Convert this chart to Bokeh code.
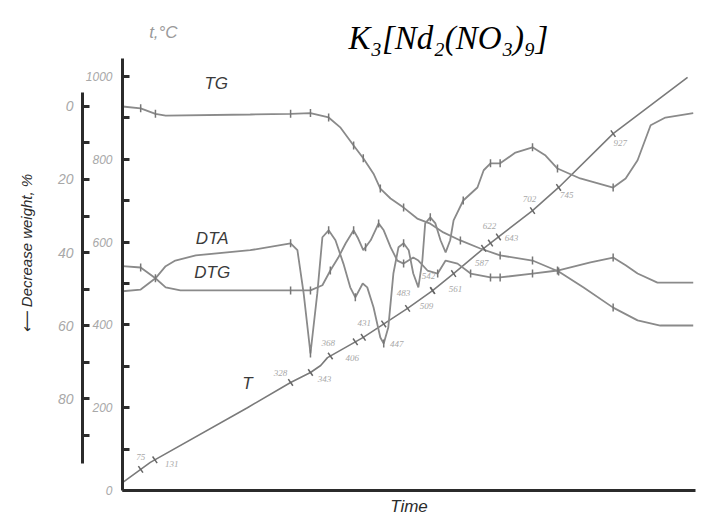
import numpy as np
from bokeh.plotting import figure
from bokeh.models import Range1d, LinearAxis, FixedTicker, Label, ColumnDataSource
from bokeh.core.properties import value
from bokeh.embed import file_html
from bokeh.resources import INLINE

# ---------------- data ----------------
# Temperature programme T (deg C) versus time (arbitrary units)
time_T = [0, 4.9, 22.0, 29.6, 33.1, 34.9, 36.1, 42.4, 50.2, 54.6, 58.3, 63.6, 72.2, 76.8, 86.4, 99.5]
temp_T = [19, 68, 200, 261, 285, 302, 321, 370, 440, 483, 524, 585, 676, 732, 862, 998]

# TG: decrease of weight, %
time_TG = [0, 3.2, 5.8, 7.6, 22.5, 29.6, 33.1, 36.3, 38.4, 40.7, 42.4, 44.2, 45.4, 47.2, 49.5,
           51.9, 54.2, 56.5, 59.5, 63.0, 66.5, 72.2, 76.8, 81.2, 86.4, 90.7, 94.7, 100.5]
tg = [0, 0.5, 2.0, 2.5, 2.2, 2.0, 1.8, 3.0, 5.8, 10.7, 14.2, 18.4, 22.5, 25.2, 27.7,
      30.7, 32.1, 34.5, 36.7, 38.9, 40.8, 42.2, 45.2, 49.6, 55.1, 58.6, 60.0, 60.0]

# DTA signal (arbitrary units)
time_DTA = [0, 3.2, 5.8, 7.6, 9.3, 12.9, 22.5, 29.6, 30.8, 31.9, 33.1, 34.3, 35.2, 36.3, 37.5,
            38.9, 40.1, 41.0, 42.3, 43.1, 44.2, 45.4, 46.0, 46.8, 47.7, 48.6, 49.5, 50.4, 51.2,
            52.1, 52.8, 53.3, 54.2, 55.1, 56.0, 56.9, 57.7, 58.3, 60.0, 62.5, 63.6, 64.8, 66.5,
            69.2, 72.2, 74.5, 76.6, 80.6, 86.4, 88.6, 90.7, 93.0, 95.6, 100.5]
dta = [46.1, 46.5, 49.1, 51.9, 53.2, 54.4, 55.6, 57.2, 55.6, 45.6, 31.7, 45.6, 58.6, 60.2, 57.9,
       52.5, 47.0, 44.7, 47.9, 47.0, 42.4, 35.4, 34.0, 37.7, 50.2, 56.3, 57.2, 55.6, 50.2,
       47.0, 53.2, 61.8, 63.2, 61.8, 57.9, 55.1, 57.9, 62.5, 67.1, 70.1, 74.1, 75.7, 75.7,
       78.2, 79.4, 77.5, 74.5, 72.2, 70.1, 72.2, 76.4, 84.5, 86.3, 87.3]

# DTG signal (arbitrary units)
time_DTG = [0, 3.2, 5.8, 7.6, 10.2, 29.6, 33.1, 35.2, 36.6, 38.0, 39.3, 40.7, 41.5, 42.4, 43.7,
            45.1, 46.0, 47.2, 48.4, 49.5, 51.2, 52.1, 53.7, 55.5, 56.9, 59.0, 61.3, 64.8, 66.5,
            72.2, 76.6, 82.4, 86.4, 88.6, 90.7, 94.2, 100.5]
dtg = [51.9, 51.6, 49.1, 47.0, 46.3, 46.3, 46.3, 47.5, 50.9, 53.9, 57.2, 60.2, 58.3, 55.6, 57.9,
       61.8, 60.2, 56.3, 53.2, 52.5, 53.9, 53.2, 50.9, 50.2, 53.2, 52.5, 50.2, 49.3, 49.3,
       50.2, 50.9, 52.8, 53.9, 52.1, 50.2, 48.1, 48.1]

# small cross-marks on the curves (times)
tg_marks = [3.2, 5.8, 29.6, 33.1, 36.3, 40.7, 42.4, 45.4, 49.5, 59.5, 66.5, 72.2, 76.8, 86.4]
dta_marks = [29.6, 33.1, 36.3, 41.0, 46.0, 49.5, 54.2, 60.0, 64.8, 66.5, 72.2, 76.6, 86.4]
dtg_marks = [3.2, 5.8, 29.6, 33.1, 36.6, 40.7, 42.8, 45.1, 49.5, 55.5, 61.3, 64.8, 66.5, 72.2, 76.6, 86.4]

# temperatures written along the T line
mark_times = [3.2, 5.7, 29.6, 33.1, 36.6, 41.0, 42.4, 46.0, 50.2, 54.6, 54.6, 58.3, 63.6, 64.8,
              66.2, 72.2, 76.8, 86.4]
mark_text = ["75", "131", "328", "343", "368", "406", "431", "447", "483", "509", "542", "561",
             "587", "622", "643", "702", "745", "927"]

# axis ticks
temp_ticks = [0, 200, 400, 600, 800, 1000]
temp_minor = [100, 300, 500, 700, 900]
weight_ticks = [0, 20, 40, 60, 80]
weight_minor = [10, 30, 50, 70, 90]

# label offsets (pixels) for the T-line temperatures
mark_dx = [0, 17, -10, 14, -2, -3, 1, 13, -4, -6, -4, 2, -2, -1, 13, -3, 8, 7]
mark_dy = [-12, 4, -9, 6, -13, 16, -14, 20, -15, 15, -15, 15, 15, -17, 1, -12, 8, 9]

# ---------------- figure ----------------
GRAY = "#8a8a8a"
DARK = "#2b2b2b"
LBL = "#a8a8a8"

p = figure(width=703, height=518, output_backend="svg", toolbar_location=None,
           x_range=Range1d(0, 100.9), y_range=Range1d(0, 1154.6),
           min_border_left=122, min_border_right=8, min_border_top=12, min_border_bottom=28,
           title=None)
p.extra_y_ranges = {"w": Range1d(105.2, -25.75), "sig": Range1d(0, 110.6)}
p.grid.visible = False
p.outline_line_color = None
p.background_fill_color = "white"
p.border_fill_color = "white"

# x axis (Time)
xa = p.xaxis[0]
xa.ticker = FixedTicker(ticks=[])
xa.axis_label = "Time"
xa.axis_label_text_font = "Liberation Sans"
xa.axis_label_text_font_style = "italic"
xa.axis_label_text_font_size = "17px"
xa.axis_label_text_color = DARK
xa.axis_label_standoff = 6
xa.axis_line_width = 3
xa.axis_line_color = DARK
xa.major_label_text_font_size = "0px"

# temperature axis
ya = p.yaxis[0]
ya.ticker = FixedTicker(ticks=temp_ticks, minor_ticks=temp_minor)
ya.bounds = (0, 1043.5)
ya.axis_line_width = 3
ya.axis_line_color = DARK
ya.major_tick_in = 7
ya.major_tick_out = 0
ya.minor_tick_in = 7
ya.minor_tick_out = 0
ya.major_tick_line_width = 3
ya.minor_tick_line_width = 3
ya.major_tick_line_color = DARK
ya.minor_tick_line_color = DARK
ya.major_label_text_font = "Liberation Sans"
ya.major_label_text_font_style = "italic"
ya.major_label_text_font_size = "12px"
ya.major_label_text_color = LBL
ya.major_label_standoff = 10

# weight axis
wa = LinearAxis(y_range_name="w", ticker=FixedTicker(ticks=weight_ticks, minor_ticks=weight_minor),
                bounds=(-3.8, 97.8))
wa.axis_line_width = 3
wa.axis_line_color = DARK
wa.major_tick_in = 7
wa.major_tick_out = 0
wa.minor_tick_in = 7
wa.minor_tick_out = 0
wa.major_tick_line_width = 3
wa.minor_tick_line_width = 3
wa.major_tick_line_color = DARK
wa.minor_tick_line_color = DARK
wa.major_label_text_font = "Liberation Sans"
wa.major_label_text_font_style = "italic"
wa.major_label_text_font_size = "14px"
wa.major_label_text_color = LBL
wa.major_label_standoff = 9
wa.axis_label = "\u27f5  Decrease weight, %"
wa.axis_label_text_font = "Liberation Sans"
wa.axis_label_text_font_style = "italic"
wa.axis_label_text_font_size = "15px"
wa.axis_label_text_color = DARK
wa.axis_label_standoff = 20
p.add_layout(wa, "left")

# ---------------- curves ----------------
p.line(time_T, temp_T, line_color="#7a7a7a", line_width=1.6)
p.line(time_TG, tg, y_range_name="w", line_color=GRAY, line_width=1.8)
p.line(time_DTA, dta, y_range_name="sig", line_color=GRAY, line_width=1.8)
p.line(time_DTG, dtg, y_range_name="sig", line_color=GRAY, line_width=1.8)

# cross marks
p.scatter(tg_marks, np.interp(tg_marks, time_TG, tg), y_range_name="w", marker="dash",
          angle=np.pi / 2, size=8, line_color="#777777", line_width=1.5)
p.scatter(dta_marks, np.interp(dta_marks, time_DTA, dta), y_range_name="sig", marker="dash",
          angle=np.pi / 2, size=8, line_color="#777777", line_width=1.5)
p.scatter(dtg_marks, np.interp(dtg_marks, time_DTG, dtg), y_range_name="sig", marker="dash",
          angle=np.pi / 2, size=8, line_color="#777777", line_width=1.5)
mark_y = np.interp(mark_times, time_T, temp_T)
p.scatter(mark_times, mark_y, marker="dash", angle=2.18, size=8,
          line_color="#666666", line_width=1.5)

src = ColumnDataSource(dict(x=mark_times, y=mark_y, t=mark_text, dx=mark_dx, dy=mark_dy))
p.text(x="x", y="y", text="t", x_offset="dx", y_offset="dy", source=src,
       text_font=value("Liberation Serif"), text_font_style="italic", text_font_size="9px",
       text_color=LBL, text_align="center", text_baseline="middle")

# curve names
for txt, x, y, rng in [("TG", 16.5, 983, "default"), ("DTA", 15.8, 58.3, "sig"),
                       ("DTG", 15.8, 50.5, "sig"), ("T", 22.0, 258, "default")]:
    p.add_layout(Label(x=x, y=y, y_range_name=rng, text=txt, text_font="Liberation Sans",
                       text_font_style="italic", text_font_size="17px", text_color="#3a3a3a",
                       text_align="center", text_baseline="middle"))

# t, deg C label and compound formula
p.add_layout(Label(x=7.2, y=1106, text="t,\u00b0C", text_font="Liberation Sans",
                   text_font_style="italic", text_font_size="17px", text_color="#9a9a9a",
                   text_align="center", text_baseline="middle"))
p.add_layout(Label(x=57.4, y=1094, text="K\u2083[Nd\u2082(NO\u2083)\u2089]",
                   text_font="Liberation Serif", text_font_style="italic", text_font_size="33px",
                   text_color="black", text_align="center", text_baseline="alphabetic"))

open("out.html", "w").write(file_html(p, INLINE))
